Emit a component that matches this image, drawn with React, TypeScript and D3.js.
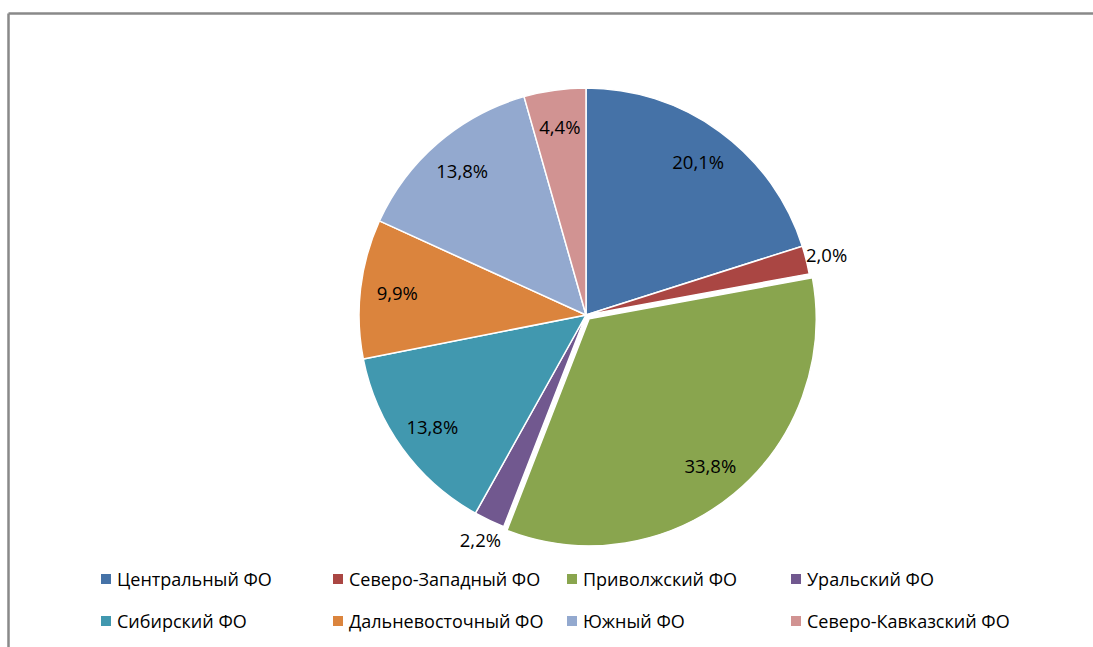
import React from "react";
import * as d3 from "d3";

const categories = [
  "Центральный ФО",
  "Северо-Западный ФО",
  "Приволжский ФО",
  "Уральский ФО",
  "Сибирский ФО",
  "Дальневосточный ФО",
  "Южный ФО",
  "Северо-Кавказский ФО",
];
const values = [20.1, 2.0, 33.8, 2.2, 13.8, 9.9, 13.8, 4.4];
const labels = ["20,1%", "2,0%", "33,8%", "2,2%", "13,8%", "9,9%", "13,8%", "4,4%"];
const colors = ["#4572A7", "#AA4643", "#89A54E", "#71588F", "#4198AF", "#DB843D", "#93A9CF", "#D19392"];
const exploded = [false, false, true, false, false, false, false, false];
const outsideLabel = [false, true, false, true, false, false, false, false];

const W = 1093;
const H = 647;
const cx = 586;
const cy = 315;
const R = 227;
const FONT = "'Open Sans', 'Noto Sans', sans-serif";

export default function App() {
  const pie = d3.pie<number>().sort(null).value((d) => d)(values);
  const arc = d3.arc<d3.PieArcDatum<number>>().innerRadius(0).outerRadius(R);
  const legendCols = [101, 333, 567, 791];
  const legendRows = [579, 621];
  return (
    <svg width={W} height={H} style={{ position: "absolute", left: 0, top: 0, background: "#fff" }}>
      <line x1={8.5} y1={13.5} x2={W} y2={13.5} stroke="#898989" strokeWidth={2.5} />
      <line x1={8.5} y1={13.5} x2={8.5} y2={H} stroke="#898989" strokeWidth={2.5} />
      <g transform={`translate(${cx},${cy})`}>
        {pie.map((p, i) => {
          const mid = (p.startAngle + p.endAngle) / 2;
          const off = exploded[i] ? 5 : 0;
          const dx = Math.sin(mid) * off;
          const dy = -Math.cos(mid) * off;
          return (
            <path
              key={i}
              d={arc(p) || ""}
              transform={`translate(${dx},${dy})`}
              fill={colors[i]}
              stroke="#fff"
              strokeWidth={1.5}
              strokeLinejoin="round"
            />
          );
        })}
        {pie.map((p, i) => {
          const mid = (p.startAngle + p.endAngle) / 2;
          const off = exploded[i] ? 5 : 0;
          const r = outsideLabel[i] ? 248 : 190;
          const x = Math.sin(mid) * (r + off);
          const y = -Math.cos(mid) * (r + off);
          return (
            <text
              key={"l" + i}
              x={x}
              y={y}
              textAnchor="middle"
              dominantBaseline="central"
              fontFamily={FONT}
              fontSize={18.5}
              fill="#000"
            >
              {labels[i]}
            </text>
          );
        })}
      </g>
      {categories.map((c, i) => {
        const col = i % 4;
        const row = Math.floor(i / 4);
        const x = legendCols[col];
        const y = legendRows[row];
        return (
          <g key={"lg" + i}>
            <rect x={x} y={y - 5} width={10} height={10} fill={colors[i]} />
            <text x={x + 16} y={y} dominantBaseline="central" fontFamily={FONT} fontSize={18} fill="#000">
              {c}
            </text>
          </g>
        );
      })}
    </svg>
  );
}
